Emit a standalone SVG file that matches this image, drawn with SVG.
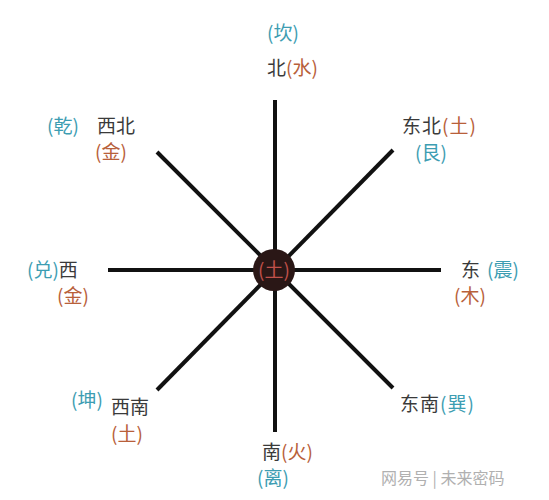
<svg xmlns="http://www.w3.org/2000/svg" width="549" height="500" viewBox="0 0 549 500">
<style>
text{font-family:"Noto Sans CJK SC","Noto Serif CJK SC",serif;font-size:19px}
.d{fill:#3a3a3a}
.t{fill:#3d9db2}
.e{fill:#b8603a}
.ln{stroke:#111;stroke-width:4;stroke-linecap:butt}
.wm{fill:#b0b0b0;font-size:16px}
</style>
<rect width="549" height="500" fill="#ffffff"/>
<g id="connectors">
<line class="ln" x1="275" y1="100" x2="275" y2="432"/>
<line class="ln" x1="108" y1="270" x2="441" y2="270"/>
<line class="ln" x1="157" y1="152" x2="393" y2="388"/>
<line class="ln" x1="393" y1="150" x2="157" y2="390"/>
</g>
<g id="center">
<circle cx="274" cy="270" r="21" fill="#2a1716"/>
<text x="274" y="277" text-anchor="middle" fill="#c0504a" font-size="18">(土)</text>
</g>
<g id="north">
<text x="283" y="40" text-anchor="middle" class="t">(坎)</text>
<text x="267" y="75" class="d">北<tspan class="e">(水)</tspan></text>
</g>
<g id="northwest">
<text x="47" y="133" class="t">(乾)</text>
<text x="97" y="133" class="d">西北</text>
<text x="95" y="159" class="e">(金)</text>
</g>
<g id="northeast">
<text x="402" y="133" class="d" letter-spacing="1">东北<tspan class="e">(土)</tspan></text>
<text x="415" y="160" class="t">(艮)</text>
</g>
<g id="west">
<text x="27" y="277" class="d"><tspan class="t">(兑)</tspan>西</text>
<text x="57" y="303" class="e">(金)</text>
</g>
<g id="east">
<text x="461" y="277" class="d">东</text>
<text x="487" y="277" class="t">(震)</text>
<text x="454" y="303" class="e">(木)</text>
</g>
<g id="southwest">
<text x="71" y="407" class="t">(坤)</text>
<text x="111" y="414" class="d">西南</text>
<text x="111" y="441" class="e">(土)</text>
</g>
<g id="southeast">
<text x="400" y="411" class="d" letter-spacing="1">东南<tspan class="t">(巽)</tspan></text>
</g>
<g id="south">
<text x="262" y="459" class="d">南<tspan class="e">(火)</tspan></text>
<text x="257" y="485" class="t">(离)</text>
</g>
<g id="watermark">
<text x="381" y="484" class="wm">网易号 | 未来密码</text>
</g>
</svg>
